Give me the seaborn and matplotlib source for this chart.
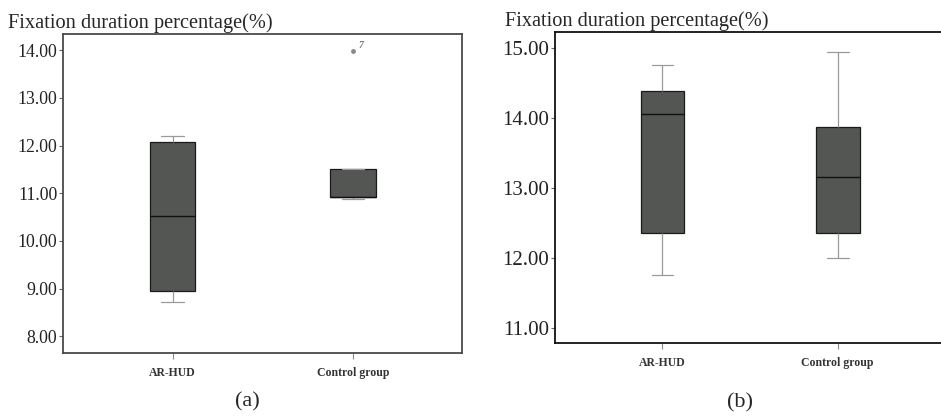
import pandas as pd
import matplotlib
matplotlib.use("Agg")
import matplotlib.pyplot as plt
import seaborn as sns

groups = ["AR-HUD", "Control group"]

# five-number style readings from the picture (min, Q1, median, Q3, max / outlier)
ar_hud_a = [8.72, 8.94, 10.52, 12.07, 12.19]
control_a = [10.88, 10.92, 10.93, 11.50, 13.98]
ar_hud_b = [11.76, 12.35, 14.05, 14.38, 14.75]
control_b = [12.00, 12.35, 13.15, 13.86, 14.93]

outlier_case = "7"
ylabel = "Fixation duration percentage(%)"
yticks_a = [8, 9, 10, 11, 12, 13, 14]
yticks_b = [11, 12, 13, 14, 15]

sns.set_theme(style="white")
plt.rcParams["font.family"] = ["Liberation Serif", "DejaVu Serif"]


def make_df(a, b):
    return pd.DataFrame({
        "group": [groups[0]] * len(a) + [groups[1]] * len(b),
        "value": a + b,
    })


def draw(ax, df, yticks, ylim, xlim, ytick_size, spine_color):
    sns.boxplot(data=df, x="group", y="value", ax=ax, width=0.25,
                color="#545653", saturation=1,
                boxprops=dict(edgecolor="#1a1a1a", linewidth=0.9),
                medianprops=dict(color="#111111", linewidth=1.0),
                whiskerprops=dict(color="#9a9a9a", linewidth=0.9),
                capprops=dict(color="#9a9a9a", linewidth=0.9),
                flierprops=dict(marker="o", markersize=2.5, markerfacecolor="#8a8a8a",
                                markeredgecolor="#8a8a8a"))
    ax.set_ylim(*ylim)
    ax.set_xlim(*xlim)
    ax.set_yticks(yticks)
    ax.set_yticklabels([f"{t:.2f}" for t in yticks], fontsize=ytick_size, color="#222222")
    ax.set_xticks([0, 1])
    ax.set_xticklabels(groups, fontsize=8.5, fontweight="bold", color="#333333")
    ax.set_xlabel("")
    ax.set_ylabel("")
    ax.tick_params(axis="y", direction="out", length=3, width=0.8, color="#666666",
                   left=True, pad=1)
    ax.tick_params(axis="x", direction="out", length=4, width=0.8, color="#888888",
                   bottom=True, pad=6)
    for s in ax.spines.values():
        s.set_color(spine_color)
        s.set_linewidth(1.3)


fig = plt.figure(figsize=(9.41, 4.16), dpi=100)

ax1 = fig.add_axes([0.067, 0.1514, 0.424, 0.767])
draw(ax1, make_df(ar_hud_a, control_a), yticks_a, (7.65, 14.34), (-0.607, 1.604),
     12.8, "#4a4a4a")
ax1.text(1.03, control_a[-1] + 0.12, outlier_case, fontsize=7, color="#777777",
         fontweight="bold", fontstyle="italic", ha="left", va="center")

ax2 = fig.add_axes([0.5895, 0.1748, 0.4105, 0.748])
draw(ax2, make_df(ar_hud_b, control_b), yticks_b, (10.78, 15.22), (-0.615, 1.59),
     15, "#111111")
ax2.spines["right"].set_visible(False)

fig.text(8 / 941, 1 - 28 / 416, ylabel, fontsize=14.7, ha="left", va="baseline")
fig.text(505 / 941, 1 - 26 / 416, ylabel, fontsize=14.6, ha="left", va="baseline")
fig.text(247 / 941, 1 - 402 / 416, "(a)", fontsize=16, ha="center", va="center")
fig.text(740 / 941, 1 - 403 / 416, "(b)", fontsize=16, ha="center", va="center")

fig.savefig("out.png", dpi=100, facecolor="white")
